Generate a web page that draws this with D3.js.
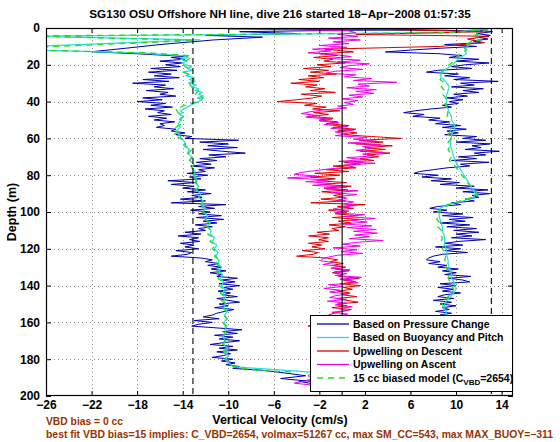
<!DOCTYPE html>
<html><head><meta charset="utf-8">
<script src="https://cdn.jsdelivr.net/npm/d3@7"></script>
<style>
html,body{margin:0;padding:0;background:#fff;}
svg{display:block;font-family:"Liberation Sans",Arial,sans-serif;}
</style></head>
<body><svg id="chart" width="560" height="442"></svg>
<script>
// ---------------- DATA ----------------
const title = "SG130 OSU Offshore NH line, dive 216 started 18\u2212Apr\u22122008 01:57:35";
const xLabel = "Vertical Velocity (cm/s)";
const yLabel = "Depth (m)";
const noteLine1 = "VBD bias = 0 cc";
const noteLine2 = "best fit VBD bias=15 implies: C_VBD=2654, volmax=51267 cc, max SM_CC=543, max MAX_BUOY=\u2212311";

const xTicks = [-26,-22,-18,-14,-10,-6,-2,2,6,10,14];
const xTickLabels = ["\u221226","\u221222","\u221218","\u221214","\u221210","\u22126","\u22122","2","6","10","14"];
const yTicks = [0,20,40,60,80,100,120,140,160,180,200];
const yTickLabels = ["0","20","40","60","80","100","120","140","160","180","200"];

const legendLabels = ["Based on Pressure Change","Based on Buoyancy and Pitch","Upwelling on Descent","Upwelling on Ascent","15 cc biased model"];

// vertical reference lines (cm/s)
const limitLines = [-13.1, 13.1];
const zeroLine = [0];

// series: [depth (m), vertical velocity (cm/s)]
const descPressure = [
[0,12.6],[1,3],[2,-9],[3,-4],[4,-12],[5,-7],[6.5,-11.3],[9,-16],[11,-19],[12.9,-22],[14,-18],[15.5,-13.6],[16,-15],[17,-13.8],[18,-16],[19,-14],[20,-15.5],
[21,-14.2],[22,-16.8],[23,-14.5],[24,-17],[25,-15],[26,-16.5],[27,-14.3],[28,-17.5],[29,-15.2],[30,-18.4],[31,-15.5],[32,-16.5],[33,-14.8],[34,-17.2],[35,-15.3],[36,-16],[37,-14.6],[38,-17.5],[39,-15.8],[40,-18],[41,-15.5],[42,-16.8],[43,-14.9],[44,-17.3],[45,-15.6],[46,-16.2],[47,-15],[48,-17],[49,-15.4],[50,-16.5],[51,-14.7],[52,-16],[53,-15.6],[54,-16.3],[55,-14.6],[56,-15],[57,-13.8],[58,-14.6],[59,-13.2],[60,-13.8],
[61,-9.1],[62,-12.5],[63,-10],[64,-11.8],[65,-9.2],[66,-12.2],[67,-10.5],[68,-8.5],[69,-11.7],[70,-10.2],[71,-12.5],[72,-11],[73,-12.8],[74,-11.5],[75,-13.3],[76,-11.2],[77,-12.6],[78,-12],[79,-13.6],[80,-11.8],
[81,-13.4],[82,-12.4],[83,-15.3],[84,-12.8],[85,-15],[86,-13],[87,-14],[88,-12],[89,-13.6],[90,-11.5],[91,-13.2],[92,-12.3],[93,-14.2],[94,-12],[95,-15],[96,-10.2],[97,-12.6],[98,-11.2],[99,-13.3],[100,-11.6],
[101,-12.6],[102,-10.6],[103,-12.8],[104,-10.4],[105,-12.2],[106,-11],[107,-12.9],[108,-11.4],[109,-12.6],[110,-12],[111,-13.8],[112,-12.4],[113,-14.4],[114,-12.6],[115,-13.4],[116,-12.5],[117,-14.2],[118,-13],[119,-13.8],[120,-12.6],
[121,-14.6],[122,-13.2],[123,-13.6],[124,-15],[125,-12.4],[126,-11.4],[127,-12],[128,-10.8],[129,-11.8],[130,-10.6],[131,-11.5],[132,-10.2],[133,-11.6],[134,-10.6],[135,-11],[136,-9.2],[137,-10.6],[138,-9.4],[139,-10.8],[140,-9],
[141,-10.4],[142,-9.6],[143,-10.9],[144,-9.8],[145,-10.5],[146,-9.2],[147,-11],[148,-10],[149,-9],[150,-10.8],[151,-10],[152,-11.2],[153,-9.5],[154,-10.3],[155,-11],[156,-11.4],[157,-12.2],[158,-10.8],[159,-13],[160,-11.4],
[161,-12.6],[162,-13.2],[163,-11],[164,-8.8],[165,-10.5],[166,-9.2],[167,-11.2],[168,-9.6],[169,-10.8],[170,-9],[171,-10.4],[172,-11.6],[173,-9.6],[174,-10.8],[175,-9.2],[176,-11],[177,-9.8],[178,-10.4],[179,-11.4],[180,-9.6],
[181,-10.6],[182,-9.4],[183,-10.2],[184,-9],[185,-9.6],[186,-7],[187.5,-5],[189,-3.2],[190.5,-5.4],[192,-2.8]
];
const ascPressure = [
[0.5,-10],[1.5,12.5],[2,13.2],[3,11.8],[4,13],[5,12],[6,12.8],[7,11.5],[8,12.2],[9,9],[10,11.8],[11,8.6],[12,6],[13,3.8],[14,8.6],[15,10.5],[16,9.4],[17,12],[18,10],[19,12.9],[20,10.8],
[21,9.6],[22,11.4],[23,8.4],[24,7.4],[25,10.2],[26,9],[27,11.2],[28,9.8],[29,13.7],[30,10.4],[31,11.6],[32,9.6],[33,12.4],[34,10.6],[35,12],[36,9.8],[37,11],[38,9.2],[39,10.6],[40,9.4],
[41,10.2],[42,8.8],[43,9.6],[44,7.8],[45,6.4],[46,5.4],[47,7.2],[48,6.2],[49,8.6],[50,7.6],[51,9.4],[52,8.2],[53,10.4],[54,8.8],[55,10.9],[56,9.2],[57,10.2],[58,9],[59,11.8],[60,10.6],
[61,12.6],[62,10],[63,13],[64,11.4],[65,12.2],[66,10.8],[67,13.8],[68,11.6],[69,12.6],[70,10.2],[71,11.8],[72,9.6],[73,12.9],[74,10.4],[75,11.2],[76,9.2],[77,8],[78,6.8],[79,6.3],[80,8.4],
[81,7],[82,9.6],[83,7.8],[84,10.3],[85,8.6],[86,11.6],[87,10],[88,12.8],[89,10.6],[90,13],[91,11.4],[92,12],[93,10.8],[94,11.6],[95,9.6],[96,10.4],[97,8.4],[98,7.7],[99,9.2],[100,8],
[101,10.6],[102,8.8],[103,11.5],[104,9.4],[105,10.8],[106,8.6],[107,11.2],[108,9.2],[109,11.8],[110,9.8],[111,12],[112,10],[113,11.4],[114,9.6],[115,12.6],[116,10.2],[117,9],[118,10.6],[119,8.2],[120,10.4],
[121,9],[122,11],[123,8.8],[124,8],[125,7.6],[126,7.4],[127,8.6],[128,7.6],[129,9.2],[130,8.4],[131,10.2],[132,8.8],[133,10],[134,9],[135,11.3],[136,9.4],[137,10.6],[138,11.2],[139,8.6],[140,10],
[141,8.4],[142,9.8],[143,8.8],[144,10.4],[145,9],[146,8.4],[147,9.8],[148,8],[149,9.6],[150,8.6],[151,10],[152,8.8],[153,9.4],[154,8.2],[155,9.6],[156,8.6],[158,9.8],[160,8.8],[162,10],[164,9],
[166,10.4],[168,9.2],[170,10],[172,8.8],[174,9.6],[176,8.4],[178,9.4],[180,8.6],[182,9.8],[184,8.8],[186,7],[188,3],[190,-1],[192,-3.8],[194,-2]
];
const descBuoyancy = [
[0.5,12.4],[2.5,9.2],[4.5,-27],[6.5,-12.5],[10,-27],[12,-27],[13.5,-18],[15,-14],[16,-13.5],[17,-14.2],[18,-13.6],[19,-14.1],[20,-13.7],[21,-13.2],[22,-13.6],[23,-13.1],[24,-14],[25,-13.4],[26,-13.7],[27,-13],[28,-13.4],[29,-12.9],[30,-13.5],
[31,-12.8],[32,-13.2],[33,-12.6],[34,-12.9],[35,-12.3],[36,-12.6],[37,-12.2],[38,-12.7],[39,-12.3],[40,-12.6],[41,-13],[42,-13.3],[43,-13.6],[44,-13.9],[45,-14.2],[46,-14],[47,-14.3],[48,-13.9],[49,-14.2],[50,-14.1],
[52,-14.4],[54,-14.2],[56,-14.6],[58,-14.3],[60,-14.1],[62,-13.8],[64,-13.9],[66,-13.4],[68,-13.6],[70,-13.2],[72,-13.4],[74,-13],[76,-13.2],[78,-12.9],[80,-13.1],[82,-12.8],[84,-12.9],[86,-12.6],[88,-12.8],[90,-12.4],
[92,-12.6],[94,-12.2],[96,-12.4],[98,-12],[100,-12.2],[102,-11.8],[104,-12],[106,-11.6],[108,-11.8],[110,-11.5],[112,-11.6],[114,-11.2],[116,-11.4],[118,-11],[120,-11.2],[122,-10.9],[124,-11.1],[126,-10.8],[128,-10.9],[130,-10.6],
[132,-10.8],[134,-10.5],[136,-10.7],[138,-10.4],[140,-10.6],[142,-10.3],[144,-10.5],[146,-10.2],[148,-10.4],[150,-10.2],[152,-10.4],[154,-10.1],[156,-10.3],[158,-10.1],[160,-10.4],[162,-10.1],[164,-10.3],[166,-10.2],[168,-10.5],[170,-10.2],
[172,-10.4],[174,-10.1],[176,-10.3],[178,-10],[180,-10.2],[182,-10],[184,-9.5],[185,-7.5],[186.5,-4],[188,-1]
];
const ascBuoyancy = [
[0.5,12.2],[2,11.8],[4,11.9],[6,11.6],[8,11.2],[10,11],[12,10.8],[14,10.9],[16,10.4],[18,10],[20,9.7],[22,9.2],[24,8.8],[26,8.6],[28,8.9],[30,9.2],[32,9.4],[34,9.3],[36,9.2],[38,9.1],[40,9.2],
[42,9.1],[44,9.3],[46,9.4],[48,9.6],[50,9.6],[52,9.8],[54,9.9],[56,9.8],[58,9.6],[60,9.6],[62,9.5],[64,9.5],[66,9.6],[68,9.7],[70,9.8],[72,9.9],[74,10.1],[76,10.3],[78,10.5],[80,10.7],
[82,10.9],[84,11.1],[86,11.3],[88,11.5],[90,11.7],[92,11.6],[94,10.6],[96,9.2],[98,8.6],[100,8.6],[102,8.5],[104,8.6],[106,8.7],[108,8.8],[110,8.8],[112,8.9],[114,9],[116,9],[118,9],[120,9.1],
[122,9.2],[124,9.2],[126,9.3],[128,9.3],[130,9.4],[132,9.5],[134,9.6],[136,9.6],[138,9.8],[140,9.9],[142,10],[144,9.8],[146,9.5],[148,9.2],[150,9],[152,9],[154,9.1],[156,9.2],[158,9.3],[160,9.3],
[164,9.4],[168,9.5],[172,9.5],[176,9.4],[180,9.4],[184,9.2],[186,8],[188,4]
];
const upDescent = [
[0.5,1],[2,12.8],[3.5,1.2],[4.5,12.9],[6,11],[8,12.5],[10,8.6],[11.5,-1.5],[13,1],[14,-2],[15,-0.4],[16,-2.5],[17,-0.8],[18,-1.6],[19,0.3],[20,-2.2],
[21,-1],[22,-3.4],[23,-1.2],[24,-2.8],[25,-0.5],[26,-3],[27,-1.6],[28,-3.8],[29,-2],[30,-4.5],[31,-2.2],[32,-3.2],[33,-1.5],[34,-2.8],[35,-0.6],[36,-3.6],[37,-1.8],[38,-2.6],[39,-4],[40,-5.7],
[41,-2.2],[42,-3.3],[43,-1.4],[44,-2.6],[45,-0.2],[46,-2.5],[47,-1.2],[48,-3],[49,-0.8],[50,-2],[51,-0.4],[52,-1.4],[53,0.6],[54,-0.8],[55,1.2],[56,-0.4],[57,1.3],[58,0.2],[59,2.6],[60,5.2],
[61,1.5],[62,3.6],[63,1.2],[64,4.4],[65,2],[66,3.8],[67,1.6],[68,4.2],[69,2.2],[70,3.2],[71,1.6],[72,2.8],[73,0.2],[74,1.6],[75,-0.8],[76,1.2],[77,-1.4],[78,0.6],[79,-2.4],[80,-0.2],
[81,-2.8],[82,-0.6],[83,-2.2],[84,0.4],[85,-1.8],[86,0.8],[87,-1.6],[88,0.5],[89,-1.8],[90,0.2],[91,-0.75],[92,0.1],[93,-1.85],[94,0.3],[95,-2.75],[96,2],[97,-0.4],[98,1],[99,-1.2],[100,0.4],
[101,-0.6],[102,1.4],[103,-0.85],[104,1.5],[105,-0.35],[106,0.8],[107,-1.15],[108,0.3],[109,-0.9],[110,-0.3],[111,-2.2],[112,-1.1],[113,-2.95],[114,-1.2],[115,-2.05],[116,-1.2],[117,-2.95],[118,-1.8],[119,-2.65],[120,-1.5],
[121,-3.5],[122,-2.1],[123,-2.55],[124,-4],[125,-1.4],[126,-0.4],[127,-1.05],[128,0.1],[129,-0.9],[130,0.3],[131,-0.6],[132,0.6],[133,-0.85],[134,0.1],[135,-0.3],[136,1.5],[137,0.1],[138,1.2],[139,-0.2],[140,1.6],
[141,0.1],[142,0.9],[143,-0.4],[144,0.7],[145,0],[146,1.3],[147,-0.5],[148,0.4],[149,1.4],[150,-0.4],[151,0.4],[152,-0.9],[153,0.8],[154,0],[155,-0.7],[156,-1.2],[157,-1.9],[158,-0.5],[159,-2.7],[160,-1.1],
[161,-2.3],[162,-3],[163,-0.8],[164,1.6],[165,-0.1],[166,1.2],[167,-0.8],[168,0.9],[169,-0.3],[170,1.4],[171,0],[172,-1.3],[173,0.7],[174,-0.4],[175,1.1],[176,-0.7],[177,0.5],[178,-0.1],[179,-1.1],[180,0.6],
[181,-0.4],[182,0.8],[183,0],[184,0.5],[185,0.2],[186,0.5],[187,0.8]
];
const upAscent = [
[0.5,-7],[1.5,0.5],[2.5,1.2],[3.5,-0.4],[4.5,1.4],[5.5,-1.2],[6.5,1.6],[7.5,-0.8],[8.5,0.6],[9.5,-2],[10.5,0.4],[11.5,-2.6],[12.5,-1],[13.5,-3],[14.5,-0.6],[15.5,0.8],[16.5,-1.2],[17.5,1.6],[18.5,-0.4],[19.5,2.4],
[20.5,0.6],[21.5,-0.2],[22.5,1.8],[23.5,-0.6],[24.5,-1.4],[25.5,1.2],[26.5,0.2],[27.5,2.6],[28.5,1],[29.5,4.8],[30.5,1.4],[31.5,2.4],[32.5,0.4],[33.5,3],[34.5,1.2],[35.5,2.8],[36.5,0.6],[37.5,1.8],[38.5,0],[39.5,1.4],
[40.5,0.2],[41.5,1],[42.5,-0.4],[43.5,0.4],[44.5,-1.6],[45.5,-2.8],[46.5,-3.6],[47.5,-2.2],[48.5,-3.2],[49.5,-0.9],[50.5,-2],[51.5,-0.3],[52.5,-1.6],[53.5,0.5],[54.5,-1],[55.5,1],[56.5,-0.6],[57.5,0.5],[58.5,-0.6],[59.5,2.2],
[60.5,1],[61.5,3],[62.5,0.5],[63.5,3.4],[64.5,1.8],[65.5,2.6],[66.5,1.2],[67.5,3.6],[68.5,1.8],[69.5,2.8],[70.5,0.4],[71.5,2],[72.5,-0.3],[73.5,2.9],[74.5,0.2],[75.5,1],[76.5,-1],[77.5,-2.4],[78.5,-3.6],[79.5,-4.2],
[80.5,-2.2],[81.5,-4.8],[82.5,-1.2],[83.5,-3.2],[84.5,-0.8],[85.5,-2.6],[86.5,0.4],[87.5,-1.4],[88.5,1.4],[89.5,-1],[90.5,1.3],[91.5,-0.2],[92.5,0.4],[93.5,-0.4],[94.5,1],[95.5,0.2],[96.5,1.2],[97.5,-0.2],[98.5,-0.8],[99.5,0.6],
[100.5,-0.6],[101.5,2],[102.5,0.2],[103.5,2.9],[104.5,0.8],[105.5,2.2],[106.5,0],[107.5,2.6],[108.5,0.4],[109.5,3],[110.5,1],[111.5,3.1],[112.5,1.1],[113.5,2.4],[114.5,0.6],[115.5,3.6],[116.5,1.2],[117.5,0],[118.5,1.6],[119.5,-0.8],
[120.5,1.3],[121.5,-0.1],[122.5,1.8],[123.5,-0.4],[124.5,-1.2],[125.5,-1.7],[126.5,-1.9],[127.5,-0.7],[128.5,-1.7],[129.5,-0.1],[130.5,-1],[131.5,0.7],[132.5,-0.7],[133.5,0.4],[134.5,-0.6],[135.5,1.7],[136.5,-0.2],[137.5,1],[138.5,1.4],[139.5,-1.2],
[140.5,0.1],[141.5,-1.6],[142.5,-0.2],[143.5,-1.1],[144.5,0.5],[145.5,-0.6],[146.5,-1.1],[147.5,0.4],[148.5,-1.3],[149.5,0.4],[150.5,-0.6],[151.5,0.9],[152.5,-0.3],[153.5,0.4],[154.5,-0.9],[155.5,0.5],[156.5,-0.5],[157.5,0.6],[158.5,-1],[159.5,0.3],
[160.5,-0.6],[161.5,0.8],[162.5,-0.3],[163.5,1],[164.5,-0.2],[165.5,0.9],[166.5,-0.6],[167.5,0.4],[168.5,-0.8],[169.5,0.6],[170.5,-0.5],[171.5,0.5],[172.5,-0.9],[173.5,0.2],[174.5,-0.6],[175.5,0.4],[176.5,-1],[177.5,0.1],[178.5,-0.7],[179.5,0.5],
[180.5,-0.8],[181.5,0.4],[182.5,-0.5],[183.5,0.3],[184.5,-0.6],[185.5,-1.5],[187,-2.5],[189,-3],[191,-2.6],[193,-4.2],[194,-2.8]
];
const descModel = [
[0.5,12.8],[2.5,10],[4.3,-27],[6.8,-13],[10.5,-27],[12,-27],[13.5,-17],[15,-13.5],[16,-13.2],[18,-13.8],[20,-14],[22,-13.5],[24,-13.9],[26,-13.3],[28,-13],[30,-13.5],[32,-13.2],[34,-12.6],[36,-12.9],[38,-12.2],[40,-12.7],
[42,-13.8],[44,-14.6],[46,-14.4],[48,-13.9],[50,-14.3],[52,-14.1],[54,-14.6],[56,-14.3],[58,-14.8],[60,-14.2],[62,-13.7],[64,-13.8],[66,-13.2],[68,-13.5],[70,-13.1],[72,-13.4],[74,-13],[76,-13.2],[78,-12.8],[80,-13],
[82,-12.6],[84,-12.9],[86,-12.5],[88,-12.8],[90,-12.4],[92,-12.6],[94,-12.1],[96,-12.4],[98,-12],[100,-12.2],[102,-11.8],[104,-12],[106,-11.6],[108,-11.9],[110,-11.5],[112,-11.8],[114,-11.3],[116,-11.6],[118,-11.1],[120,-11.4],
[122,-11],[124,-11.2],[126,-10.8],[128,-11.1],[130,-10.7],[132,-11],[134,-10.6],[136,-10.9],[138,-10.5],[140,-10.8],[142,-10.4],[144,-10.7],[146,-10.3],[148,-10.6],[150,-10.2],[152,-10.5],[154,-10.2],[156,-10.4],[158,-10.1],[160,-10.5],
[162,-10.2],[164,-10.5],[166,-10.3],[168,-10.6],[170,-10.3],[172,-10.5],[174,-10.2],[176,-10.4],[178,-10.1],[180,-10.3],[182,-10],[184,-9.6],[186,-7.5],[187,-4]
];
const ascModel = [
[0.5,12.8],[2,12.4],[4,11.6],[6,12.2],[8,11.2],[10,10.6],[12,10.9],[14,10.4],[16,10],[18,9.8],[20,9.4],[22,9],[24,8.7],[26,8.8],[28,8.6],[30,9],[32,8.7],[34,9],[36,8.8],[38,9.1],[40,8.9],
[42,9.2],[44,9],[46,9.3],[48,9.2],[50,9.5],[52,9.4],[54,9.7],[56,9.5],[58,9.3],[60,9.6],[62,9.3],[64,9.5],[66,9.3],[68,9.5],[70,9.6],[72,9.4],[74,9.8],[76,10],[78,10.3],[80,10.5],
[82,10.8],[84,11],[86,11.3],[88,11.6],[90,11.9],[92,11.4],[94,10.4],[96,9.4],[98,8.7],[100,8.4],[102,8.5],[104,8.3],[106,8.6],[108,8.4],[110,8.7],[112,8.6],[114,8.8],[116,8.7],[118,8.9],[120,8.8],
[122,9],[124,9.1],[126,9],[128,9.2],[130,9.1],[132,9.3],[134,9.4],[136,9.3],[138,9.5],[140,9.6],[142,9.8],[144,9.6],[146,9.3],[148,9],[150,8.8],[152,8.9],[154,8.8],[156,9],[160,9.1],[164,9.2],
[168,9.3],[172,9.2],[176,9.2],[180,9.1],[184,9],[186,7.5],[188,4]
];

// ---------------- DRAWING ----------------
const svg = d3.select("#chart");
const W = 560, H = 442;
const plot = {left:46, right:513, top:28, bottom:396};
const x = d3.scaleLinear().domain([-26, 15]).range([plot.left, plot.right]);
const y = d3.scaleLinear().domain([0, 200]).range([plot.top, plot.bottom]);

const colors = {pressure:"#0000b4", buoy:"#22dede", red:"#e00000", mag:"#f000e8", green:"#22dd22"};
const FONT = "'Liberation Sans', Arial, Helvetica, sans-serif";

svg.append("rect").attr("width",W).attr("height",H).attr("fill","#fff");

// grid
const grid = svg.append("g").attr("stroke","#8c8c8c").attr("stroke-width",1).attr("stroke-dasharray","1,3");
grid.selectAll("line.gx").data(xTicks.filter(v=>v>-26 && v<15)).join("line")
  .attr("x1",d=>Math.round(x(d))+0.5).attr("x2",d=>Math.round(x(d))+0.5)
  .attr("y1",plot.top).attr("y2",plot.bottom);
grid.selectAll("line.gy").data(yTicks.filter(v=>v>0 && v<200)).join("line")
  .attr("class","gy")
  .attr("y1",d=>Math.round(y(d))+0.5).attr("y2",d=>Math.round(y(d))+0.5)
  .attr("x1",plot.left).attr("x2",plot.right);

// clip
svg.append("defs").append("clipPath").attr("id","clip").append("rect")
  .attr("x",plot.left).attr("y",plot.top).attr("width",plot.right-plot.left).attr("height",plot.bottom-plot.top);

const line = d3.line().x(d=>x(d[1])).y(d=>y(d[0]));
const data = svg.append("g").attr("clip-path","url(#clip)").attr("fill","none");

const seriesList = [
  {d:descPressure, c:colors.pressure, w:1},
  {d:ascPressure, c:colors.pressure, w:1},
  {d:descBuoyancy, c:colors.buoy, w:1.2},
  {d:ascBuoyancy, c:colors.buoy, w:1.2},
  {d:upDescent, c:colors.red, w:1},
  {d:upAscent, c:colors.mag, w:1},
  {d:descModel, c:colors.green, w:1.3, dash:"6,5"},
  {d:ascModel, c:colors.green, w:1.3, dash:"6,5"}
];
seriesList.forEach(s=>{
  data.append("path").attr("d",line(s.d)).attr("stroke",s.c).attr("stroke-width",s.w)
    .attr("stroke-dasharray",s.dash||null).attr("stroke-linejoin","round");
});

// reference lines
const refs = svg.append("g").attr("stroke","#000").attr("stroke-width",1.1);
refs.selectAll("line.lim").data(limitLines).join("line").attr("class","lim")
  .attr("x1",d=>x(d)).attr("x2",d=>x(d)).attr("y1",plot.top).attr("y2",plot.bottom)
  .attr("stroke-dasharray","6,4");
refs.selectAll("line.zero").data(zeroLine).join("line").attr("class","zero")
  .attr("x1",d=>x(d)).attr("x2",d=>x(d)).attr("y1",plot.top).attr("y2",plot.bottom);

// axes
function styleAxis(g){
  g.select(".domain").remove();
  g.selectAll(".tick line").attr("stroke","#000");
  g.selectAll("text").attr("font-family",FONT).attr("font-size","12px").attr("font-weight","bold").attr("fill","#000");
}
const xAxis = d3.axisBottom(x).tickValues(xTicks).tickFormat((d,i)=>xTickLabels[i]).tickSizeInner(-5).tickSizeOuter(0).tickPadding(4);
svg.append("g").attr("transform",`translate(0,${plot.bottom})`).call(xAxis).call(styleAxis);
const xAxisTop = d3.axisTop(x).tickValues(xTicks).tickFormat("").tickSizeInner(-5).tickSizeOuter(0);
svg.append("g").attr("transform",`translate(0,${plot.top})`).call(xAxisTop).call(styleAxis);
const yAxis = d3.axisLeft(y).tickValues(yTicks).tickFormat((d,i)=>yTickLabels[i]).tickSizeInner(-5).tickSizeOuter(0).tickPadding(6);
svg.append("g").attr("transform",`translate(${plot.left},0)`).call(yAxis).call(styleAxis);
const yAxisR = d3.axisRight(y).tickValues(yTicks).tickFormat("").tickSizeInner(-5).tickSizeOuter(0);
svg.append("g").attr("transform",`translate(${plot.right},0)`).call(yAxisR).call(styleAxis);

// frame
svg.append("rect").attr("x",plot.left+0.5).attr("y",plot.top+0.5)
  .attr("width",plot.right-plot.left-1).attr("height",plot.bottom-plot.top-1)
  .attr("fill","none").attr("stroke","#000").attr("stroke-width",1.2);

// legend
const lg = svg.append("g");
const L = {x:310, y:315, w:202, h:76, rowY:[324,337.5,351,364.5,378]};
lg.append("rect").attr("x",L.x+0.5).attr("y",L.y+0.5).attr("width",L.w).attr("height",L.h)
  .attr("fill","#fff").attr("stroke","#000").attr("stroke-width",1);
const legendStyles = [
  {c:colors.pressure},{c:colors.buoy},{c:colors.red},{c:colors.mag},{c:colors.green,dash:"6,5"}
];
legendStyles.forEach((s,i)=>{
  lg.append("line").attr("x1",317).attr("x2",349).attr("y1",L.rowY[i]).attr("y2",L.rowY[i])
    .attr("stroke",s.c).attr("stroke-width",s.dash?1.6:1.3).attr("stroke-dasharray",s.dash||null);
  const t = lg.append("text").attr("x",353).attr("y",L.rowY[i]).attr("dy","0.35em")
    .attr("font-family",FONT).attr("font-size","10.5px").attr("font-weight","bold").attr("fill","#000");
  if(i<4){ t.text(legendLabels[i]); }
  else {
    t.append("tspan").text(legendLabels[i]+" (C");
    t.append("tspan").attr("font-size","8px").attr("dy","3").text("VBD");
    t.append("tspan").attr("dy","-3").text("=2654)");
  }
});

// titles
svg.append("text").attr("x",280).attr("y",14).attr("dy","0.35em").attr("text-anchor","middle")
  .attr("font-family",FONT).attr("font-size","11.7px").attr("font-weight","bold").text(title);
svg.append("text").attr("x",280).attr("y",420).attr("dy","0.35em").attr("text-anchor","middle")
  .attr("font-family",FONT).attr("font-size","12.5px").attr("font-weight","bold").text(xLabel);
svg.append("text").attr("transform","translate(12,212) rotate(-90)").attr("dy","0.35em").attr("text-anchor","middle")
  .attr("font-family",FONT).attr("font-size","12.5px").attr("font-weight","bold").text(yLabel);
svg.append("text").attr("x",46).attr("y",421).attr("dy","0.35em")
  .attr("font-family",FONT).attr("font-size","10.3px").attr("font-weight","bold").attr("fill","#993300").text(noteLine1);
svg.append("text").attr("x",46).attr("y",434).attr("dy","0.35em")
  .attr("font-family",FONT).attr("font-size","10.4px").attr("font-weight","bold").attr("fill","#993300").text(noteLine2);
</script>
</body></html>
